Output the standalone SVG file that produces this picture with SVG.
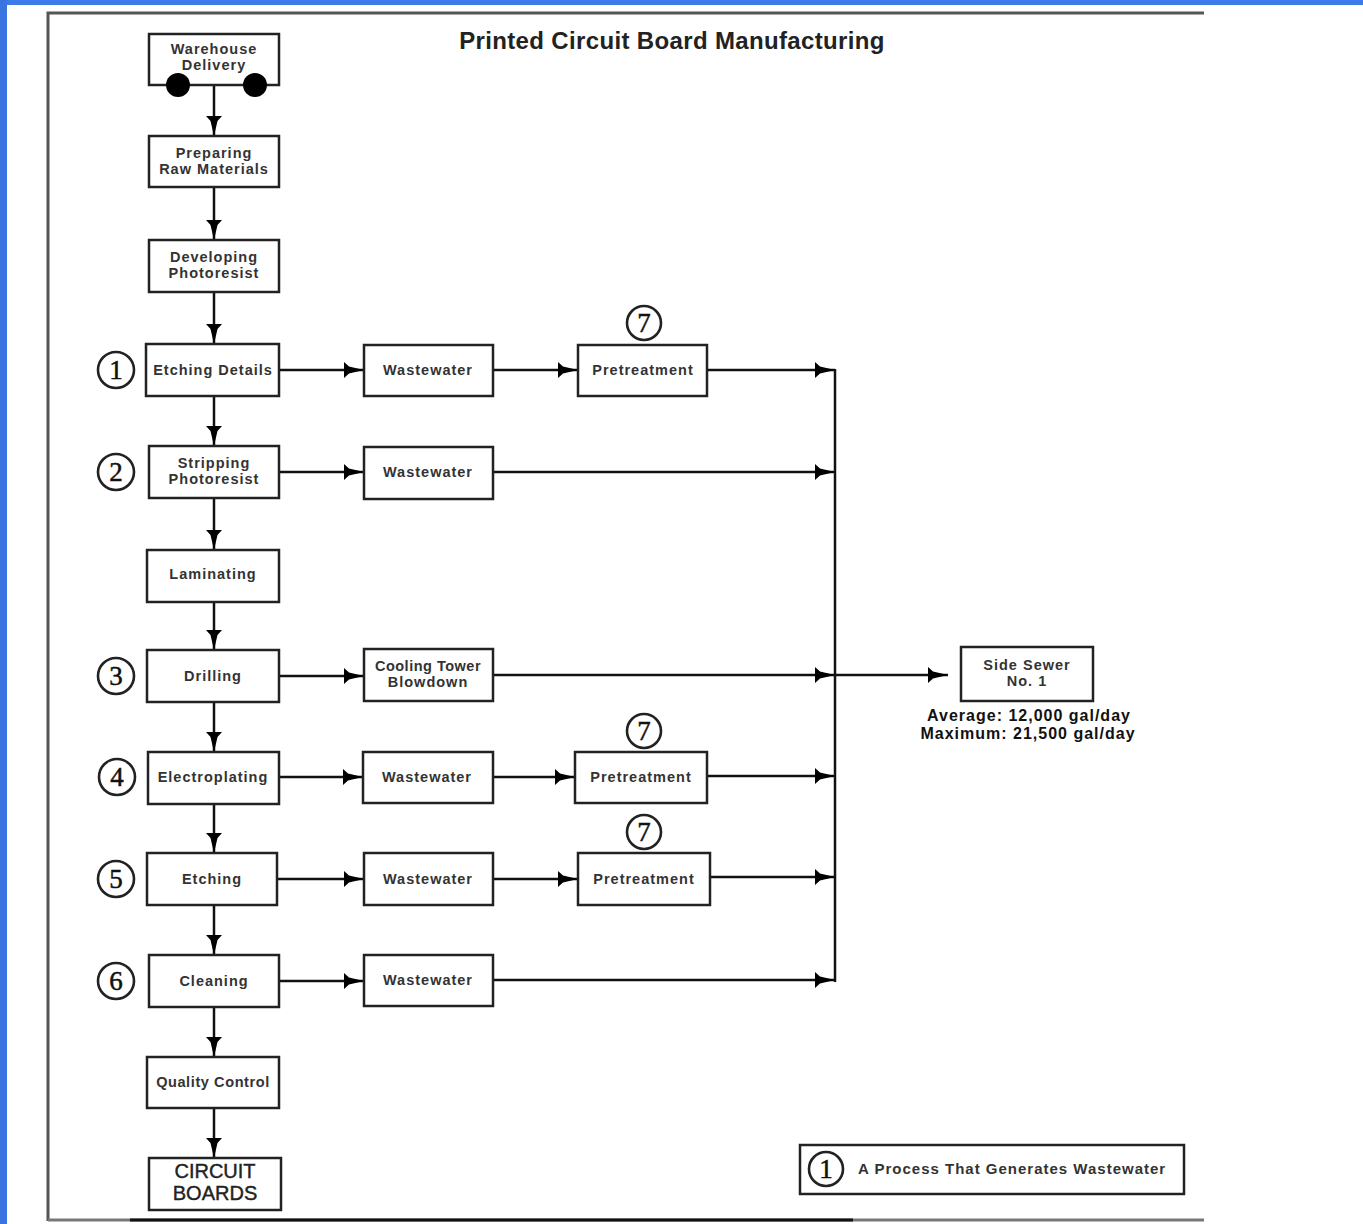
<svg xmlns="http://www.w3.org/2000/svg" width="1363" height="1224" viewBox="0 0 1363 1224">
<style>
.box{fill:#fff;stroke:#222;stroke-width:2.5}
.t{font-family:"Liberation Sans",Arial,sans-serif;font-weight:bold;font-size:14.5px;fill:#333;text-anchor:middle;letter-spacing:1px}
.num{font-family:"Liberation Serif","Times New Roman",serif;font-size:27px;fill:#111;text-anchor:middle;stroke:#111;stroke-width:0.5}
.circ{fill:#fff;stroke:#222;stroke-width:2.6}
.ln{fill:none;stroke:#111;stroke-width:2.5}
</style>
<defs>
<marker id="ah" viewBox="0 0 20 16" refX="20" refY="8" markerWidth="20" markerHeight="16" markerUnits="userSpaceOnUse" orient="auto">
<path d="M0,0 L5,4.5 L20,8 L5,11.5 L0,16 Z" fill="#000"/>
</marker>
</defs>
<rect x="0" y="0" width="1363" height="1224" fill="#fff"/>
<rect x="0" y="0" width="1363" height="5" fill="#3d7aea"/>
<rect x="0" y="0" width="7" height="1224" fill="#3a74e0"/>
<g id="frame">
<path d="M48,1221 L48,13 L1204,13" fill="none" stroke="#555" stroke-width="3"/>
<path d="M48,1220 L1204,1220" fill="none" stroke="#777" stroke-width="3"/>
<path d="M130,1220 L853,1220" fill="none" stroke="#111" stroke-width="3"/>
</g>
<text x="672" y="49" font-family="'Liberation Sans',Arial,sans-serif" font-weight="bold" font-size="24" letter-spacing="0.35" fill="#222" text-anchor="middle">Printed Circuit Board Manufacturing</text>
<g id="connectors">
<path class="ln" marker-end="url(#ah)" d="M214,85 L214,136"/>
<path class="ln" marker-end="url(#ah)" d="M214,187 L214,240"/>
<path class="ln" marker-end="url(#ah)" d="M214,292 L214,344"/>
<path class="ln" marker-end="url(#ah)" d="M214,396 L214,446"/>
<path class="ln" marker-end="url(#ah)" d="M214,498 L214,550"/>
<path class="ln" marker-end="url(#ah)" d="M214,602 L214,650"/>
<path class="ln" marker-end="url(#ah)" d="M214,702 L214,752"/>
<path class="ln" marker-end="url(#ah)" d="M214,804 L214,853"/>
<path class="ln" marker-end="url(#ah)" d="M214,905 L214,955"/>
<path class="ln" marker-end="url(#ah)" d="M214,1007 L214,1057"/>
<path class="ln" marker-end="url(#ah)" d="M214,1108 L214,1158"/>
<path class="ln" marker-end="url(#ah)" d="M279,370 L364,370"/>
<path class="ln" marker-end="url(#ah)" d="M493,370 L578,370"/>
<path class="ln" marker-end="url(#ah)" d="M707,370 L835,370"/>
<path class="ln" marker-end="url(#ah)" d="M279,472 L364,472"/>
<path class="ln" marker-end="url(#ah)" d="M493,472 L835,472"/>
<path class="ln" marker-end="url(#ah)" d="M279,676 L364,676"/>
<path class="ln" marker-end="url(#ah)" d="M493,675 L835,675"/>
<path class="ln" marker-end="url(#ah)" d="M279,777 L363,777"/>
<path class="ln" marker-end="url(#ah)" d="M493,777 L575,777"/>
<path class="ln" marker-end="url(#ah)" d="M707,776 L835,776"/>
<path class="ln" marker-end="url(#ah)" d="M277,879 L364,879"/>
<path class="ln" marker-end="url(#ah)" d="M493,879 L578,879"/>
<path class="ln" marker-end="url(#ah)" d="M710,877 L835,877"/>
<path class="ln" marker-end="url(#ah)" d="M279,981 L364,981"/>
<path class="ln" marker-end="url(#ah)" d="M493,980 L835,980"/>
<path class="ln" d="M835,369 L835,982"/>
<path class="ln" marker-end="url(#ah)" d="M835,675 L948,675"/>
</g>
<g id="warehouse"><rect class="box" x="149" y="34" width="130" height="51"/><text class="t" x="214" y="54">Warehouse</text><text class="t" x="214" y="70">Delivery</text><circle cx="178" cy="85" r="12" fill="#000"/><circle cx="255" cy="85" r="12" fill="#000"/></g>
<g id="preparing"><rect class="box" x="149" y="136" width="130" height="51"/><text class="t" x="214" y="158">Preparing</text><text class="t" x="214" y="174">Raw Materials</text></g>
<g id="developing"><rect class="box" x="149" y="240" width="130" height="52"/><text class="t" x="214" y="262">Developing</text><text class="t" x="214" y="278">Photoresist</text></g>
<g id="etching-details"><rect class="box" x="146" y="344" width="133" height="52"/><text class="t" x="213" y="375">Etching Details</text></g>
<g id="stripping"><rect class="box" x="149" y="446" width="130" height="52"/><text class="t" x="214" y="468">Stripping</text><text class="t" x="214" y="484">Photoresist</text></g>
<g id="laminating"><rect class="box" x="147" y="550" width="132" height="52"/><text class="t" x="213" y="579">Laminating</text></g>
<g id="drilling"><rect class="box" x="147" y="650" width="132" height="52"/><text class="t" x="213" y="681">Drilling</text></g>
<g id="electroplating"><rect class="box" x="148" y="752" width="131" height="52"/><text class="t" x="213" y="782">Electroplating</text></g>
<g id="etching"><rect class="box" x="147" y="853" width="130" height="52"/><text class="t" x="212" y="884">Etching</text></g>
<g id="cleaning"><rect class="box" x="149" y="955" width="130" height="52"/><text class="t" x="214" y="986">Cleaning</text></g>
<g id="quality"><rect class="box" x="147" y="1057" width="132" height="51"/><text class="t" x="213" y="1087" style="letter-spacing:0.6px">Quality Control</text></g>
<g id="boards"><rect class="box" x="149" y="1158" width="132" height="52"/><text x="215" y="1178" font-family="'Liberation Sans',Arial,sans-serif" font-size="20" fill="#222" text-anchor="middle" stroke="#222" stroke-width="0.4">CIRCUIT</text><text x="215" y="1200" font-family="'Liberation Sans',Arial,sans-serif" font-size="20" fill="#222" text-anchor="middle" stroke="#222" stroke-width="0.4">BOARDS</text></g>
<g id="n1"><circle class="circ" cx="116" cy="370" r="18"/><text class="num" x="116" y="379">1</text></g>
<g id="n2"><circle class="circ" cx="116" cy="472" r="18"/><text class="num" x="116" y="481">2</text></g>
<g id="n3"><circle class="circ" cx="116" cy="676" r="18"/><text class="num" x="116" y="685">3</text></g>
<g id="n4"><circle class="circ" cx="117" cy="777" r="18"/><text class="num" x="117" y="786">4</text></g>
<g id="n5"><circle class="circ" cx="116" cy="879" r="18"/><text class="num" x="116" y="888">5</text></g>
<g id="n6"><circle class="circ" cx="116" cy="981" r="18"/><text class="num" x="116" y="990">6</text></g>
<g id="ww1"><rect class="box" x="364" y="345" width="129" height="51"/><text class="t" x="428" y="375">Wastewater</text></g>
<g id="ww2"><rect class="box" x="364" y="447" width="129" height="52"/><text class="t" x="428" y="477">Wastewater</text></g>
<g id="cooling"><rect class="box" x="364" y="649" width="129" height="52"/><text class="t" x="428" y="671" style="letter-spacing:0.5px">Cooling Tower</text><text class="t" x="428" y="687">Blowdown</text></g>
<g id="ww4"><rect class="box" x="363" y="752" width="130" height="51"/><text class="t" x="427" y="782">Wastewater</text></g>
<g id="ww5"><rect class="box" x="364" y="853" width="129" height="52"/><text class="t" x="428" y="884">Wastewater</text></g>
<g id="ww6"><rect class="box" x="364" y="955" width="129" height="51"/><text class="t" x="428" y="985">Wastewater</text></g>
<g id="pre1"><rect class="box" x="578" y="345" width="129" height="51"/><text class="t" x="643" y="375">Pretreatment</text><circle class="circ" cx="644" cy="323" r="17"/><text class="num" x="644" y="332">7</text></g>
<g id="pre4"><rect class="box" x="575" y="752" width="132" height="51"/><text class="t" x="641" y="782">Pretreatment</text><circle class="circ" cx="644" cy="731" r="17"/><text class="num" x="644" y="740">7</text></g>
<g id="pre5"><rect class="box" x="578" y="853" width="132" height="52"/><text class="t" x="644" y="884">Pretreatment</text><circle class="circ" cx="644" cy="832" r="17"/><text class="num" x="644" y="841">7</text></g>
<g id="sewer"><rect class="box" x="961" y="647" width="132" height="54"/><text class="t" x="1027" y="670">Side Sewer</text><text class="t" x="1027" y="686">No. 1</text>
<text class="t" x="1029" y="721" style="fill:#111;font-size:16px">Average: 12,000 gal/day</text><text class="t" x="1028" y="739" style="fill:#111;font-size:16px">Maximum: 21,500 gal/day</text></g>
<g id="legend"><rect class="box" x="800" y="1145" width="384" height="49"/><circle class="circ" cx="826" cy="1169" r="17"/><text class="num" x="826" y="1178">1</text><text class="t" x="858" y="1174" style="text-anchor:start;font-size:15px">A Process That Generates Wastewater</text></g>
</svg>
